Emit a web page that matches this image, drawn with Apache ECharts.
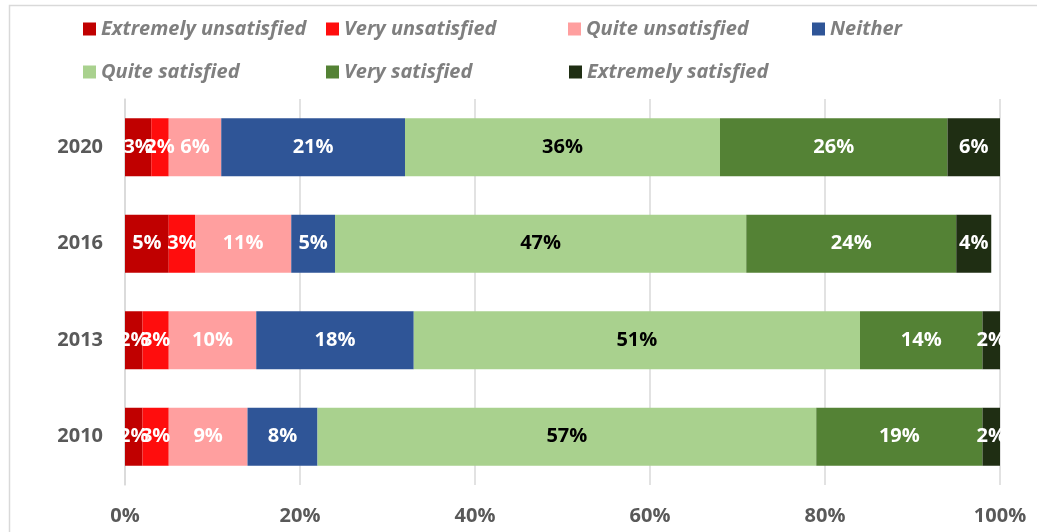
<!DOCTYPE html>
<html><head><meta charset="utf-8">
<script src="https://cdn.jsdelivr.net/npm/echarts@6/dist/echarts.min.js"></script>
<style>html,body{margin:0;padding:0;background:#fff}#c{width:1037px;height:532px}</style>
</head><body><div id="c"></div>
<script>
var years = ['2010', '2013', '2016', '2020'];
var seriesNames = ['Extremely unsatisfied', 'Very unsatisfied', 'Quite unsatisfied', 'Neither', 'Quite satisfied', 'Very satisfied', 'Extremely satisfied'];
var extremelyUnsatisfied = [2, 2, 5, 3];
var veryUnsatisfied = [3, 3, 3, 2];
var quiteUnsatisfied = [9, 10, 11, 6];
var neither = [8, 18, 5, 21];
var quiteSatisfied = [57, 51, 47, 36];
var verySatisfied = [19, 14, 24, 26];
var extremelySatisfied = [2, 2, 4, 6];
var xTicks = ['0%', '20%', '40%', '60%', '80%', '100%'];

var values = [extremelyUnsatisfied, veryUnsatisfied, quiteUnsatisfied, neither, quiteSatisfied, verySatisfied, extremelySatisfied];
var colors = ['#C00000', '#FF0D0D', '#FF9F9F', '#2F5597', '#A9D18E', '#548235', '#1F2E13'];
var labelColors = ['#fff', '#fff', '#fff', '#fff', '#000', '#fff', '#fff'];
var FONT = 'Open Sans';
var legendPos = [[78, 14], [321, 14], [563, 14], [807, 14], [78, 57], [321, 57], [564, 57]];

var legends = seriesNames.map(function (n, i) {
  return {
    data: [n], left: legendPos[i][0], top: legendPos[i][1],
    itemWidth: 13, itemHeight: 13, itemGap: 6, icon: 'rect',
    textStyle: { fontFamily: FONT, fontSize: 20, fontStyle: 'italic', fontWeight: 'bold', color: '#7F7F7F' }
  };
});

var series = seriesNames.map(function (n, i) {
  return {
    name: n, type: 'bar', stack: 'all', barWidth: 58,
    data: values[i],
    itemStyle: { color: colors[i] },
    label: {
      show: true, position: 'inside', formatter: '{c}%',
      color: labelColors[i], fontFamily: FONT, fontSize: 20, fontWeight: 'bold'
    }
  };
});

var chart = echarts.init(document.getElementById('c'));
chart.setOption({
  animation: false,
  legend: legends,
  graphic: [{ type: 'rect', left: 7, top: 3, shape: { width: 1100, height: 600 }, style: { fill: 'none', stroke: '#D9D9D9', lineWidth: 1.5 }, silent: true, z: -10 }],
  grid: { left: 125, right: 37, top: 99, bottom: 47 },
  xAxis: {
    type: 'value', min: 0, max: 100, interval: 20,
    axisLabel: { formatter: function (v) { return xTicks[v / 20]; }, fontFamily: FONT, fontSize: 20, fontWeight: 'bold', color: '#595959', margin: 21 },
    splitLine: { lineStyle: { color: '#D9D9D9', width: 1.5 } },
    axisLine: { show: false }, axisTick: { show: false }
  },
  yAxis: {
    type: 'category', data: years,
    axisLabel: { fontFamily: FONT, fontSize: 20, fontWeight: 'bold', color: '#595959', margin: 22 },
    axisLine: { show: true, lineStyle: { color: '#D9D9D9', width: 1.5 } },
    axisTick: { show: false }
  },
  series: series
});
</script></body></html>
